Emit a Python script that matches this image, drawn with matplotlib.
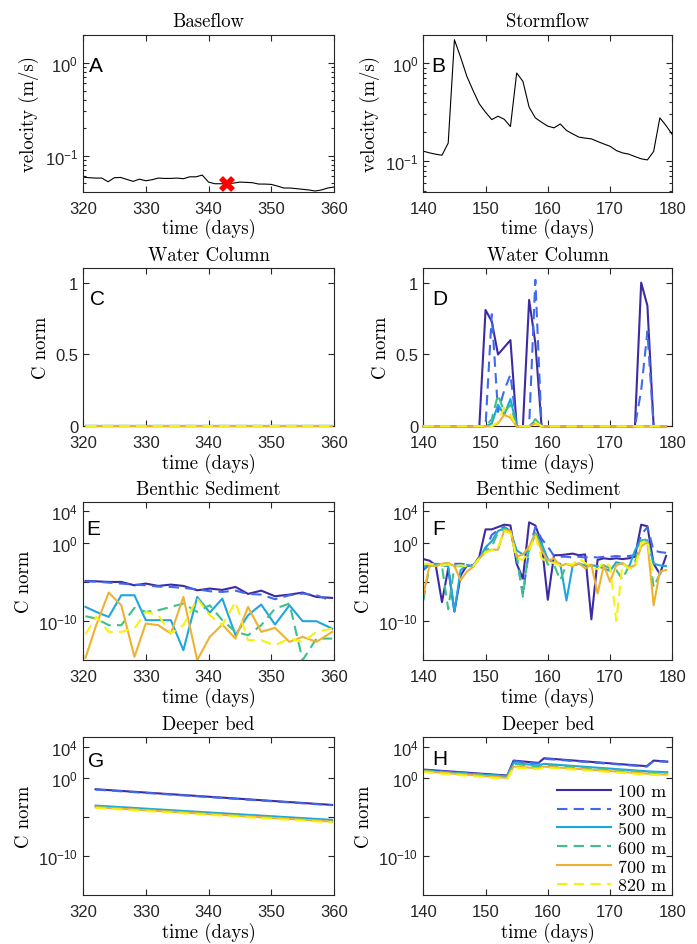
import matplotlib
matplotlib.use('Agg')
import matplotlib.pyplot as plt
import numpy as np
from matplotlib.ticker import FixedLocator, LogLocator, NullFormatter, NullLocator

plt.rcParams['mathtext.fontset'] = 'custom'
plt.rcParams['mathtext.rm'] = 'Liberation Sans'
plt.rcParams['mathtext.it'] = 'Liberation Sans:italic'
plt.rcParams['mathtext.bf'] = 'Liberation Sans:bold'
plt.rcParams['font.family'] = ['Liberation Sans', 'DejaVu Sans']

SERIF = 'cmr10'
AX_COLOR = '#262626'

# ---------------- data ----------------
# velocity (m/s)
t_base = list(range(320, 361))
v_base = [0.0586, 0.0577, 0.0572, 0.0572, 0.0522, 0.0577, 0.0581, 0.0553, 0.0527, 0.0557,
          0.0535, 0.0549, 0.0572, 0.0567, 0.0567, 0.0572, 0.0563, 0.0590, 0.0590, 0.0616,
          0.0518, 0.0497, 0.0497, 0.0497, 0.0505, 0.0518, 0.0514, 0.0510, 0.0493, 0.0493,
          0.0489, 0.0469, 0.0447, 0.0447, 0.0440, 0.0433, 0.0426, 0.0415, 0.0426, 0.0447,
          0.0458]
sample_day = 343
sample_v = 0.049

t_storm = list(range(140, 181))
v_storm = [0.1265, 0.1216, 0.1178, 0.115, 0.153, 1.74, 1.15, 0.735, 0.526, 0.385,
           0.316, 0.266, 0.288, 0.268, 0.226, 0.796, 0.655, 0.356, 0.277, 0.25,
           0.228, 0.219, 0.24, 0.206, 0.19, 0.176, 0.172, 0.169, 0.159, 0.150,
           0.142, 0.1285, 0.1216, 0.118, 0.1115, 0.1057, 0.103, 0.1256, 0.277, 0.231,
           0.187]

labels = ['100 m', '300 m', '500 m', '600 m', '700 m', '820 m']
colors = ['#3d2ba3', '#4169ee', '#1fa5e0', '#3fc08a', '#eeb230', '#f5f20f']
styles = ['-', '--', '-', '--', '-', '--']

# model output times
t_e = [320.4, 322.1, 324.1, 326.1, 328.2, 330.0, 332.0, 334.0, 336.0, 338.2,
       340.2, 342.2, 344.3, 346.3, 348.4, 350.6, 352.9, 355.0, 357.2, 359.7]
t_f = list(range(140, 180))

# water column, C norm
wc_base = {lab: [0.0] * len(t_e) for lab in labels}
wc_storm = {
    '100 m': [0, 0, 0, 0, 0, 0, 0, 0, 0, 0, 0.81, 0.73, 0.50, 0.55, 0.60, 0, 0, 0.88, 0.58, 0,
              0, 0, 0, 0, 0, 0, 0, 0, 0, 0, 0, 0, 0, 0, 0, 1.0, 0.84, 0, 0, 0],
    '300 m': [0, 0, 0, 0, 0, 0, 0, 0, 0, 0, 0, 0.78, 0.10, 0.25, 0.36, 0, 0, 0, 1.02, 0,
              0, 0, 0, 0, 0, 0, 0, 0, 0, 0, 0, 0, 0, 0, 0, 0.25, 0.66, 0, 0, 0],
    '500 m': [0, 0, 0, 0, 0, 0, 0, 0, 0, 0, 0, 0.02, 0.15, 0.08, 0.19, 0, 0, 0, 0.04, 0,
              0, 0, 0, 0, 0, 0, 0, 0, 0, 0, 0, 0, 0, 0, 0, 0, 0, 0, 0, 0],
    '600 m': [0, 0, 0, 0, 0, 0, 0, 0, 0, 0, 0, 0.05, 0.22, 0.10, 0.15, 0, 0, 0, 0.05, 0,
              0, 0, 0, 0, 0, 0, 0, 0, 0, 0, 0, 0, 0, 0, 0, 0, 0, 0, 0, 0],
    '700 m': [0, 0, 0, 0, 0, 0, 0, 0, 0, 0, 0, 0, 0.02, 0.08, 0.06, 0, 0, 0, 0.02, 0,
              0, 0, 0, 0, 0, 0, 0, 0, 0, 0, 0, 0, 0, 0, 0, 0, 0, 0, 0, 0],
    '820 m': [0, 0, 0, 0, 0, 0, 0, 0, 0, 0, 0, 0, 0.03, 0.13, 0.08, 0, 0, 0, 0.03, 0,
              0, 0, 0, 0, 0, 0, 0, 0, 0, 0, 0, 0, 0, 0, 0, 0, 0, 0, 0, 0],
}

# benthic sediment, log10(C norm)
bs_base = {
    '100 m': [-4.89, -4.94, -5.02, -5.02, -5.45, -5.23, -5.53, -5.36, -5.53, -6.09,
              -5.87, -6.04, -5.66, -6.55, -6.13, -6.85, -6.64, -6.38, -6.94, -7.06],
    '300 m': [-4.94, -4.98, -5.11, -5.23, -5.36, -5.45, -5.62, -5.66, -5.79, -5.96,
              -6.21, -6.30, -6.13, -6.55, -6.64, -7.23, -6.72, -6.51, -6.72, -7.45],
    '500 m': [-8.21, -8.85, -9.49, -6.72, -6.72, -9.91, -9.91, -9.91, -13.74, -6.94,
              -8.94, -7.15, -11.83, -9.28, -7.91, -10.47, -8.00, -10.04, -10.04, -10.98],
    '600 m': [-9.40, -9.70, -10.55, -10.55, -8.34, -8.85, -8.64, -8.21, -7.79, -8.85,
              -8.00, -9.91, -11.40, -11.83, -10.55, -8.43, -7.79, -15.02, -12.26, -12.26],
    '700 m': [-14.72, -10.55, -6.38, -8.00, -14.60, -10.34, -10.55, -11.62, -6.94, -15.02,
              -12.04, -10.47, -12.26, -8.21, -11.40, -10.89, -12.68, -12.04, -12.68, -11.40],
    '820 m': [-11.70, -9.49, -11.40, -11.40, -10.98, -8.85, -9.28, -11.62, -10.55, -7.15,
              -9.28, -10.55, -7.57, -12.47, -12.47, -13.11, -12.26, -12.68, -11.40, -10.98],
}
bs_storm = {
    '100 m': [-2.1, -2.3, -2.9, -7.6, -3.3, -8.8, -4.2, -2.9, -3.0, -1.8,
              1.7, 1.7, 2.0, 2.3, 2.2, -2.7, -4.6, 2.6, 2.2, 0.0,
              -7.3, -1.6, -1.6, -1.5, -1.4, -1.6, -1.5, -9.8, -2.2, -2.0,
              -2.1, -2.0, -2.1, -2.0, -1.8, 2.3, 2.1, -2.7, -4.0, -1.7],
    '300 m': [-3.5, -2.8, -2.7, -2.8, -2.6, -2.7, -2.7, -2.8, -2.9, -2.0,
              -0.8, 1.0, 1.6, 2.0, 1.5, -2.0, -6.5, -1.0, 2.0, 0.5,
              -0.5, -1.7, -1.8, -1.8, -1.9, -1.8, -1.9, -1.8, -1.9, -1.8,
              -1.8, -1.7, -1.8, -1.7, -1.6, 1.0, 2.0, -1.0, -1.2, -1.3],
    '500 m': [-3.1, -2.8, -2.7, -2.9, -3.0, -8.8, -3.5, -2.9, -3.0, -2.0,
              -0.6, 0.2, 1.5, 1.8, 1.5, -1.0, -1.5, -1.0, 1.2, -0.1,
              -2.1, -2.6, -2.7, -7.4, -2.9, -2.7, -2.9, -2.9, -3.0, -3.3,
              -3.6, -2.5, -2.7, -3.2, -1.0, 0.3, 0.3, -2.7, -2.9, -3.0],
    '600 m': [-7.4, -3.0, -2.9, -3.0, -8.5, -3.0, -3.0, -3.0, -3.0, -2.0,
              -1.0, -0.5, 1.3, 1.8, 1.5, -1.5, -6.9, -0.5, 1.2, -0.5,
              -2.8, -2.8, -4.8, -2.8, -2.9, -2.7, -2.8, -2.9, -3.0, -2.9,
              -3.3, -3.5, -4.7, -3.0, -2.5, 0.2, 0.5, -5.7, -4.0, -4.1],
    '700 m': [-6.7, -2.9, -3.0, -2.7, -2.6, -3.0, -4.8, -3.7, -3.1, -2.0,
              -1.2, -0.9, -0.9, 1.6, 1.5, -1.8, -1.5, -0.5, 1.0, -1.0,
              -2.3, -2.0, -3.0, -2.7, -3.0, -2.6, -3.3, -2.8, -6.5, -2.9,
              -5.0, -2.9, -2.6, -3.2, -2.9, -0.5, 0.1, -8.0, -3.7, -3.5],
    '820 m': [-2.7, -2.7, -2.8, -2.9, -2.8, -3.0, -2.9, -3.0, -3.0, -2.0,
              -1.2, -1.0, -0.6, 1.5, 1.2, -2.0, -2.2, -1.0, 0.9, -2.0,
              -2.5, -2.6, -2.9, -2.7, -2.8, -2.0, -2.6, -3.0, -3.4, -2.5,
              -3.0, -10.0, -2.7, -3.3, -3.3, 0.0, 0.3, -4.5, np.nan, np.nan],
}

# deeper bed, log10(C norm)
t_g = [322.0, 359.7]
db_base = {
    '100 m': [-1.45, -3.46],
    '300 m': [-1.50, -3.50],
    '500 m': [-3.55, -5.38],
    '600 m': [-3.65, -5.50],
    '700 m': [-3.75, -5.60],
    '820 m': [-3.85, -5.70],
}
t_h = [140.0, 153.5, 154.5, 158.5, 159.4, 175.9, 177.0, 179.2]
db_storm = {
    '100 m': [1.07, 0.30, 2.22, 1.92, 2.52, 1.50, 2.22, 2.09],
    '300 m': [1.00, 0.25, 2.15, 1.85, 2.45, 1.45, 2.15, 2.05],
    '500 m': [0.94, 0.21, 1.92, 1.58, 1.80, 0.85, 0.80, 0.73],
    '600 m': [0.90, 0.15, 1.80, 1.45, 1.65, 0.75, 0.72, 0.65],
    '700 m': [0.85, 0.00, 1.45, 1.24, 1.45, 0.55, 0.50, 0.43],
    '820 m': [0.73, -0.13, 1.32, 1.11, 1.32, 0.42, 0.38, 0.30],
}

# ---------------- layout ----------------
W, H = 697, 945
fig = plt.figure(figsize=(W / 100, H / 100), dpi=100)

cols = [(83, 251), (423.3, 249)]
rows = [(35.7, 192.5), (269.3, 427.3), (503, 661), (738.3, 896)]
# panel letter offsets from the axes' top-left corner, in pixels
letter_pos = {'A': (6, 21), 'B': (8, 21), 'C': (7, 21), 'D': (9, 21),
              'E': (3, 17), 'F': (9, 17), 'G': (5, 14), 'H': (9, 12)}


def make_ax(r, c):
    x0, w = cols[c]
    top, bot = rows[r]
    return fig.add_axes([x0 / W, 1 - bot / H, w / W, (bot - top) / H])


def style(ax, title, letter, ylabel, xlim):
    ax.set_xlim(*xlim)
    ax.set_xticks(np.arange(xlim[0], xlim[1] + 1, 10))
    ax.tick_params(which='both', direction='in', top=True, right=True,
                   colors=AX_COLOR, labelsize=12, width=0.8)
    ax.tick_params(which='major', length=4)
    ax.tick_params(which='minor', length=2.5)
    ax.tick_params(axis='x', pad=6.5)
    for s in ax.spines.values():
        s.set_color(AX_COLOR)
        s.set_linewidth(0.8)
    ax.set_title(title, fontfamily=SERIF, fontsize=13.5, pad=6)
    ax.set_xlabel('time (days)', fontfamily=SERIF, fontsize=13.5, labelpad=2)
    ax.set_ylabel(ylabel, fontfamily=SERIF, fontsize=13.5, labelpad=4)
    bb = ax.get_position()
    dx, dy = letter_pos[letter]
    ax.text(dx / (bb.width * W), 1 - dy / (bb.height * H), letter,
            transform=ax.transAxes, fontsize=15, va='top', ha='left', color='black')


def log_c_axis(ax):
    ax.set_yscale('log')
    ax.set_ylim(1e-15, 10 ** 5.2)
    ax.yaxis.set_major_locator(FixedLocator([1e-10, 1e-5, 1e0, 1e4]))
    ax.yaxis.set_minor_locator(NullLocator())
    ax.set_yticklabels([r'$\mathregular{10^{-10}}$', '',
                        r'$\mathregular{10^{0}}$', r'$\mathregular{10^{4}}$'])


def draw(ax, tt, vals, col, ls, lab=None, z=2, clip=True):
    kw = dict(color=col, ls=ls, lw=1.5, label=lab, zorder=z, clip_on=clip)
    if ls == '--':
        kw['dashes'] = (5, 3)
    h, = ax.plot(tt, vals, **kw)
    return h


# A: baseflow velocity
ax = make_ax(0, 0)
ax.plot(t_base, v_base, color='black', lw=0.8)
ax.plot([sample_day], [sample_v], marker='x', color='red', ms=9, mew=4, ls='none')
ax.set_yscale('log')
ax.set_ylim(0.041, 2.0)
ax.yaxis.set_major_locator(FixedLocator([0.1, 1.0]))
ax.yaxis.set_minor_locator(LogLocator(base=10, subs=np.arange(2, 10)))
ax.yaxis.set_minor_formatter(NullFormatter())
ax.set_yticklabels([r'$\mathregular{10^{-1}}$', r'$\mathregular{10^{0}}$'])
style(ax, 'Baseflow', 'A', 'velocity (m/s)', (320, 360))

# B: stormflow velocity
ax = make_ax(0, 1)
ax.plot(t_storm, v_storm, color='black', lw=0.8)
ax.set_yscale('log')
ax.set_ylim(0.049, 1.96)
ax.yaxis.set_major_locator(FixedLocator([0.1, 1.0]))
ax.yaxis.set_minor_locator(LogLocator(base=10, subs=np.arange(2, 10)))
ax.yaxis.set_minor_formatter(NullFormatter())
ax.set_yticklabels([r'$\mathregular{10^{-1}}$', r'$\mathregular{10^{0}}$'])
style(ax, 'Stormflow', 'B', 'velocity (m/s)', (140, 180))

# C, D: water column
for c, (tt, data, letter, xl) in enumerate([(t_e, wc_base, 'C', (320, 360)),
                                           (t_f, wc_storm, 'D', (140, 180))]):
    ax = make_ax(1, c)
    for lab, col, ls in zip(labels, colors, styles):
        draw(ax, tt, data[lab], col, ls, z=3, clip=False)
    ax.set_ylim(0, 1.1)
    ax.set_yticks([0, 0.5, 1])
    ax.set_yticklabels(['0', '0.5', '1'])
    style(ax, 'Water Column', letter, 'C norm', xl)

# E, F: benthic sediment
for c, (tt, data, letter, xl) in enumerate([(t_e, bs_base, 'E', (320, 360)),
                                           (t_f, bs_storm, 'F', (140, 180))]):
    ax = make_ax(2, c)
    for lab, col, ls in zip(labels, colors, styles):
        draw(ax, tt, 10.0 ** np.array(data[lab], dtype=float), col, ls)
    log_c_axis(ax)
    style(ax, 'Benthic Sediment', letter, 'C norm', xl)

# G, H: deeper bed
for c, (tt, data, letter, xl) in enumerate([(t_g, db_base, 'G', (320, 360)),
                                           (t_h, db_storm, 'H', (140, 180))]):
    ax = make_ax(3, c)
    handles = []
    for lab, col, ls in zip(labels, colors, styles):
        handles.append(draw(ax, tt, 10.0 ** np.array(data[lab], dtype=float), col, ls, lab))
    log_c_axis(ax)
    style(ax, 'Deeper bed', letter, 'C norm', xl)
    if letter == 'H':
        ax.legend(handles=handles, loc='lower right', frameon=False,
                  bbox_to_anchor=(1.0, -0.03),
                  prop={'family': SERIF, 'size': 13}, handlelength=3.0,
                  labelspacing=0.18, handletextpad=0.35, borderaxespad=0.0,
                  borderpad=0.35)

fig.savefig('out.png', dpi=100)
print('saved out.png')
